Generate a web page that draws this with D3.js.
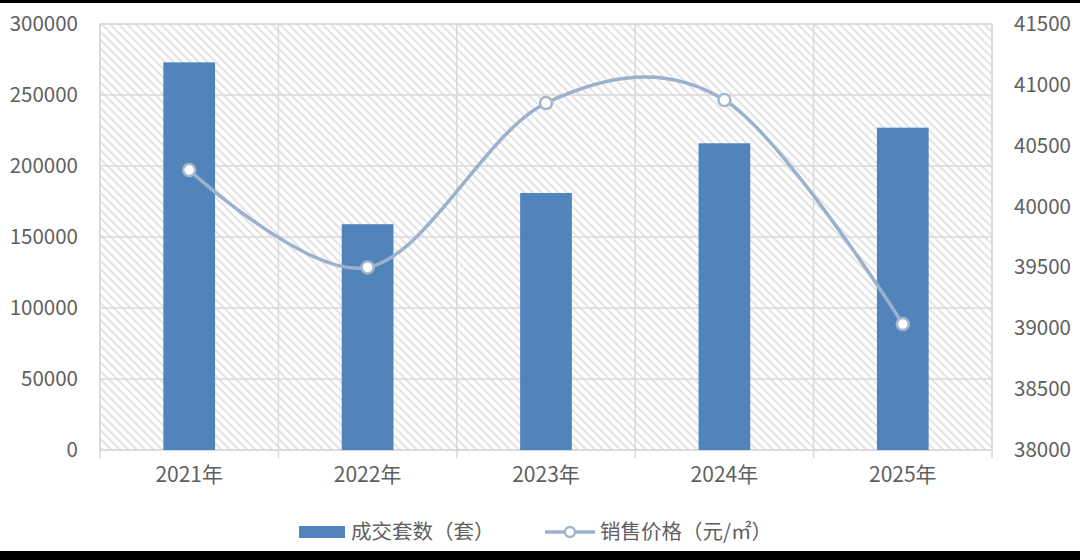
<!DOCTYPE html>
<html><head><meta charset="utf-8">
<script src="https://cdn.jsdelivr.net/npm/d3@7"></script>
<style>
html,body{margin:0;padding:0;background:#fff;}
svg{display:block;}
text{font-family:"Noto Sans CJK SC","Noto Sans",sans-serif;fill:#5f5f5f;}
</style></head>
<body>
<svg id="chart" width="1080" height="560"></svg>
<script>
const categories = ["2021年","2022年","2023年","2024年","2025年"];
const units = [273000, 159000, 181000, 216000, 227000];
const prices = [40300, 39500, 40850, 40875, 39035];
const leftTicks = [0,50000,100000,150000,200000,250000,300000];
const rightTicks = [38000,38500,39000,39500,40000,40500,41000,41500];
const seriesNames = ["成交套数（套）","销售价格（元/㎡）"];

const W=1080,H=560;
const m={left:100,right:88,top:24,bottom:110};
const pw=W-m.left-m.right, ph=H-m.top-m.bottom;
const svg=d3.select("#chart");
const FONT="\"Noto Sans CJK SC\",sans-serif";

const defs=svg.append("defs");
const pat=defs.append("pattern").attr("id","hatch").attr("patternUnits","userSpaceOnUse")
  .attr("width",6).attr("height",6).attr("patternTransform","rotate(-45)");
pat.append("rect").attr("width",6).attr("height",6).attr("fill","#ffffff");
pat.append("rect").attr("width",2).attr("height",6).attr("fill","#e3e3e3");

const g=svg.append("g").attr("transform",`translate(${m.left},${m.top})`);
const x=d3.scaleBand().domain(categories).range([0,pw]).paddingInner(0).paddingOuter(0);
const yL=d3.scaleLinear().domain([0,300000]).range([ph,0]);
const yR=d3.scaleLinear().domain([38000,41500]).range([ph,0]);

g.append("rect").attr("width",pw).attr("height",ph).attr("fill","url(#hatch)");

g.selectAll(".hg").data(leftTicks).join("line")
  .attr("x1",0).attr("x2",pw).attr("y1",d=>yL(d)).attr("y2",d=>yL(d))
  .attr("stroke","#d9d9d9").attr("stroke-width",1.5);
g.selectAll(".vg").data(d3.range(categories.length+1)).join("line")
  .attr("x1",i=>i*x.step()).attr("x2",i=>i*x.step()).attr("y1",0).attr("y2",ph+8)
  .attr("stroke","#d9d9d9").attr("stroke-width",1.5);
g.append("rect").attr("width",pw).attr("height",ph).attr("fill","none").attr("stroke","#d9d9d9").attr("stroke-width",1.5);

const bw=x.step()*0.29;
g.selectAll(".bar").data(units).join("rect")
  .attr("x",(d,i)=>x(categories[i])+x.bandwidth()/2-bw/2)
  .attr("width",bw).attr("y",d=>yL(d)).attr("height",d=>ph-yL(d))
  .attr("fill","#5184ba");

const line=d3.line().x((d,i)=>x(categories[i])+x.bandwidth()/2).y(d=>yR(d)).curve(d3.curveCardinal.tension(0));
g.append("path").datum(prices).attr("d",line).attr("fill","none").attr("stroke","#9bb1cc").attr("stroke-width",3.5);
g.selectAll(".pt").data(prices).join("circle")
  .attr("cx",(d,i)=>x(categories[i])+x.bandwidth()/2).attr("cy",d=>yR(d)).attr("r",6)
  .attr("fill","#fff").attr("stroke","#a5b7cc").attr("stroke-width",2.5);

const axL=g.append("g").call(d3.axisLeft(yL).tickValues(leftTicks).tickSize(0).tickPadding(22).tickFormat(d3.format("d")));
axL.select(".domain").remove();
axL.selectAll("text").attr("font-size",20.5).style("fill","#5f5f5f").style("font-family",FONT);
const axR=g.append("g").attr("transform",`translate(${pw},0)`).call(d3.axisRight(yR).tickValues(rightTicks).tickSize(0).tickPadding(22).tickFormat(d3.format("d")));
axR.select(".domain").remove();
axR.selectAll("text").attr("font-size",20.5).style("fill","#5f5f5f").style("font-family",FONT);
const axB=g.append("g").attr("transform",`translate(0,${ph})`).call(d3.axisBottom(x).tickSize(0).tickPadding(17));
axB.select(".domain").remove();
axB.selectAll("text").attr("font-size",21).style("fill","#5f5f5f").style("font-family",FONT);

const lg=svg.append("g");
lg.append("rect").attr("x",299).attr("y",526).attr("width",46).attr("height",12).attr("fill","#5184ba");
lg.append("text").attr("x",351).attr("y",532).attr("dy","0.35em").attr("font-size",20.5).text(seriesNames[0]);
lg.append("line").attr("x1",545).attr("x2",595).attr("y1",532).attr("y2",532).attr("stroke","#9bb1cc").attr("stroke-width",3.5);
lg.append("circle").attr("cx",570).attr("cy",532).attr("r",5).attr("fill","#fff").attr("stroke","#a5b7cc").attr("stroke-width",2.5);
lg.append("text").attr("x",600).attr("y",532).attr("dy","0.35em").attr("font-size",20.5).text(seriesNames[1]);

svg.append("rect").attr("x",0).attr("y",0).attr("width",W).attr("height",3).attr("fill","#000");
svg.append("rect").attr("x",0).attr("y",551).attr("width",W).attr("height",9).attr("fill","#000");
</script>
</body></html>
